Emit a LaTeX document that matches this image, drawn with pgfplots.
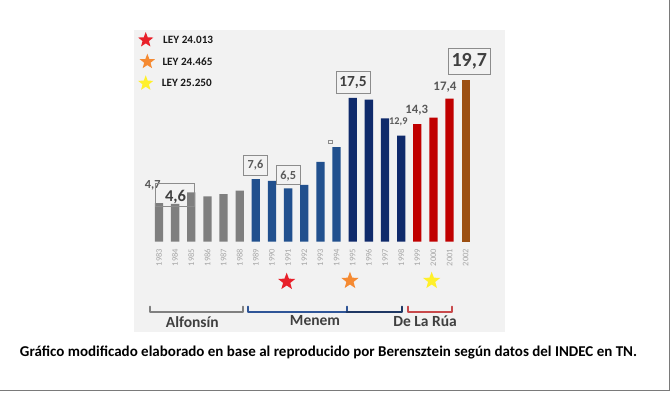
\documentclass[border=0pt]{standalone}
\usepackage{fontspec}
\setmainfont{Carlito}
\usepackage{graphicx}
\usepackage{pgfplots}
\pgfplotsset{compat=1.18}
\definecolor{panel}{HTML}{F2F2F2}
\definecolor{gbar}{HTML}{7F7F7F}
\definecolor{bbar}{HTML}{21508E}
\definecolor{nbar}{HTML}{0F2A6B}
\definecolor{rbar}{HTML}{C00000}
\definecolor{brbar}{HTML}{9C4F12}
\definecolor{starred}{HTML}{E8202A}
\definecolor{starorange}{HTML}{F58A32}
\definecolor{staryellow}{HTML}{FFF02A}
\definecolor{yeargray}{HTML}{A6A6A6}
\definecolor{valgray}{HTML}{595959}
\definecolor{boxgray}{HTML}{8C8C8C}
\definecolor{txtdark}{HTML}{404040}
\definecolor{brgray}{HTML}{808080}
\definecolor{brblue}{HTML}{2F5597}
\definecolor{brnavy}{HTML}{1F3864}
\definecolor{brred}{HTML}{C8494B}
\definecolor{framegray}{HTML}{7A7A7A}
\newcommand\fs[1]{\fontsize{#1}{#1}\selectfont}
\pgfdeclareplotmark{fstar}{%
  \pgfpathmoveto{\pgfpointpolar{90}{\pgfplotmarksize}}%
  \pgfpathlineto{\pgfpointpolar{126}{0.42\pgfplotmarksize}}%
  \pgfpathlineto{\pgfpointpolar{162}{\pgfplotmarksize}}%
  \pgfpathlineto{\pgfpointpolar{198}{0.42\pgfplotmarksize}}%
  \pgfpathlineto{\pgfpointpolar{234}{\pgfplotmarksize}}%
  \pgfpathlineto{\pgfpointpolar{270}{0.42\pgfplotmarksize}}%
  \pgfpathlineto{\pgfpointpolar{306}{\pgfplotmarksize}}%
  \pgfpathlineto{\pgfpointpolar{342}{0.42\pgfplotmarksize}}%
  \pgfpathlineto{\pgfpointpolar{18}{\pgfplotmarksize}}%
  \pgfpathlineto{\pgfpointpolar{54}{0.42\pgfplotmarksize}}%
  \pgfpathclose
  \pgfusepathqfill}
\begin{document}
\begin{tikzpicture}[x=1pt,y=1pt]
\fill[white] (0,0) rectangle (671,393);
\useasboundingbox (0,0) rectangle (671,393);
\fill[panel] (134,61) rectangle (505,363);
\draw[framegray, line width=1.5pt] (0,2.6) -- (669.4,2.6) -- (669.4,393);
\begin{axis}[
  at={(150.9pt,151.3pt)}, anchor=south west,
  scale only axis, width=322.9pt, height=180.8pt,
  xmin=-0.5, xmax=19.5, ymin=0, ymax=22,
  clip=false,
  axis line style={draw=none},
  major tick length=0pt,
  ytick=\empty,
  xtick={0,...,19},
  xticklabels={1983,1984,1985,1986,1987,1988,1989,1990,1991,1992,1993,1994,1995,1996,1997,1998,1999,2000,2001,2002},
  xticklabel style={rotate=90, anchor=east, font=\fs{8.5}, text=yeargray, inner xsep=7pt, inner ysep=0pt},
  /pgf/number format/assume math mode=true,
]
\addplot[ybar, bar width=8.3pt, bar shift=0pt, fill=gbar, draw=none] coordinates {(0,4.7)(1,4.6)(2,6.0)(3,5.5)(4,5.8)(5,6.2)};
\addplot[ybar, bar width=8.3pt, bar shift=0pt, fill=bbar, draw=none] coordinates {(6,7.6)(7,7.4)(8,6.5)(9,6.9)(10,9.7)(11,11.5)};
\addplot[ybar, bar width=8.3pt, bar shift=0pt, fill=nbar, draw=none] coordinates {(12,17.5)(13,17.3)(14,15.0)(15,12.9)};
\addplot[ybar, bar width=8.3pt, bar shift=0pt, fill=rbar, draw=none] coordinates {(16,14.3)(17,15.1)(18,17.4)};
\addplot[ybar, bar width=8.3pt, bar shift=0pt, fill=brbar, draw=none] coordinates {(19,19.7)};
% stars below the axis
\addplot[only marks, mark=fstar, mark size=9pt, color=starred] coordinates {(7.91,-4.87)};
\addplot[only marks, mark=fstar, mark size=9pt, color=starorange] coordinates {(11.83,-4.75)};
\addplot[only marks, mark=fstar, mark size=9pt, color=staryellow] coordinates {(16.89,-4.75)};
% legend stars
\addplot[only marks, mark=fstar, mark size=8pt, color=starred] coordinates {(-0.82,24.54)};
\addplot[only marks, mark=fstar, mark size=8pt, color=starorange] coordinates {(-0.72,21.90)};
\addplot[only marks, mark=fstar, mark size=8pt, color=staryellow] coordinates {(-0.82,19.27)};
\end{axis}
% legend text
\node[anchor=west, inner sep=0pt, text=black!90] at (163,353) {\fs{11.2}\bfseries LEY 24.013};
\node[anchor=west, inner sep=0pt, text=black!90] at (162.3,331.3) {\fs{11.2}\bfseries LEY 24.465};
\node[anchor=west, inner sep=0pt, text=black!90] at (161.7,309.7) {\fs{11.2}\bfseries LEY 25.250};
% value labels
\node[inner sep=0pt, text=valgray] at (152.8,208) {\fs{12.3}\bfseries 4,7};
\draw[boxgray, line width=1pt] (155,209) rectangle (194,186.3);
\node[inner sep=0pt, text=txtdark] at (175.5,195.7) {\fs{16.5}\bfseries 4,6};
\draw[boxgray, line width=1pt] (243.3,237) rectangle (267.3,217.7);
\node[inner sep=0pt, text=valgray] at (255.5,227.5) {\fs{12.3}\bfseries 7,6};
\draw[boxgray, line width=1pt] (276.7,227) rectangle (300,208);
\node[inner sep=0pt, text=valgray] at (288.3,217) {\fs{12.3}\bfseries 6,5};
\draw[boxgray, line width=0.6pt] (328.7,252.5) rectangle (332.7,249.5);
\draw[boxgray, line width=1pt] (336,321.3) rectangle (370,299.7);
\node[inner sep=0pt, text=txtdark] at (353,310.3) {\fs{15.4}\bfseries 17,5};
\draw[boxgray, line width=1pt] (448.3,344.7) rectangle (490,318);
\node[inner sep=0pt, text=txtdark] at (469.3,331.3) {\fs{20}\bfseries 19,7};
\node[inner sep=0pt, text=valgray] at (445,306.3) {\fs{13}\bfseries 17,4};
\node[inner sep=0pt, text=valgray] at (416.7,283) {\fs{12.7}\bfseries 14,3};
\node[inner sep=0pt, text=valgray] at (398.3,270.7) {\fs{10.3}\bfseries 12,9};
% brackets
\draw[brgray, line width=2pt, line cap=round, line join=round] (150,86.3) -- (150,81.3) -- (243.3,81.3) -- (243.3,86.3);
\draw[brblue, line width=2pt, line cap=round, line join=round] (248.3,86.3) -- (248.3,81.3) -- (346.7,81.3) -- (346.7,86.3);
\draw[brnavy, line width=2pt, line cap=round, line join=round] (346.7,81.3) -- (401.7,81.3) -- (401.7,86.3);
\draw[brred, line width=2pt, line cap=round, line join=round] (407.7,86.3) -- (407.7,81.3) -- (451.7,81.3) -- (451.7,86.3);
\node[inner sep=0pt, text=txtdark] at (192.3,71.3) {\fs{15.5}\bfseries Alfonsín};
\node[inner sep=0pt, text=txtdark] at (315,72.3) {\fs{15.5}\bfseries Menem};
\node[inner sep=0pt, text=txtdark] at (425,71.3) {\fs{15.5}\bfseries De La Rúa};
% caption
\node[inner sep=0pt, text=black] at (328.5,41) {\resizebox{617pt}{!}{\bfseries Gráfico modificado elaborado en base al reproducido por Berensztein según datos del INDEC en TN.}};
\end{tikzpicture}
\end{document}
